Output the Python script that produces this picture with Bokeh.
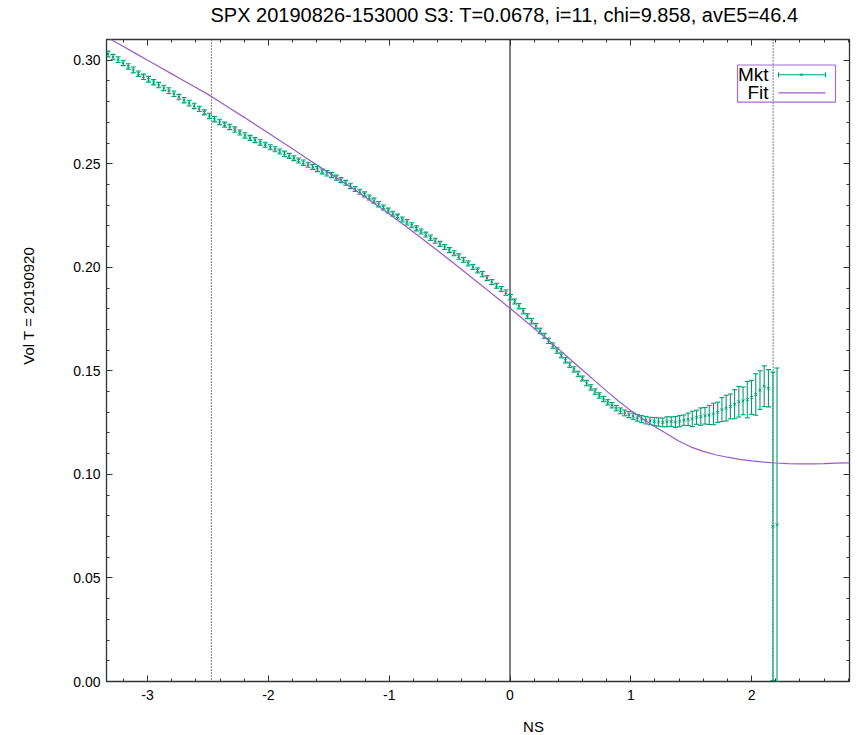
import math
import numpy as np
from bokeh.plotting import figure
from bokeh.models import (ColumnDataSource, Span, Label, BoxAnnotation, FixedTicker,
                          LinearAxis, Range1d, CustomJSTickFormatter)
from bokeh.embed import file_html
from bokeh.resources import INLINE

# ---------------- data ----------------
TITLE = "SPX 20190826-153000  S3:  T=0.0678, i=11, chi=9.858, avE5=46.4"
X_LABEL = "NS"
Y_LABEL = "Vol   T = 20190920"
LEGEND_LABELS = ["Mkt", "Fit"]

mkt_ns = [
    -3.328, -3.286, -3.244, -3.202, -3.160, -3.118, -3.076, -3.034, -2.992, -2.950,
    -2.908, -2.866, -2.824, -2.782, -2.740, -2.698, -2.656, -2.614, -2.572, -2.530,
    -2.488, -2.446, -2.404, -2.362, -2.320, -2.278, -2.236, -2.194, -2.152, -2.110,
    -2.068, -2.026, -1.984,
    -1.945, -1.906, -1.867, -1.828, -1.789, -1.750, -1.711, -1.672, -1.633, -1.594,
    -1.555, -1.516, -1.477, -1.438, -1.399, -1.360, -1.321, -1.282, -1.243, -1.204,
    -1.165, -1.126, -1.087, -1.048, -1.009, -0.970, -0.931, -0.892, -0.853, -0.814,
    -0.775, -0.736, -0.697, -0.658, -0.619, -0.580, -0.541, -0.502, -0.463, -0.424,
    -0.385, -0.346, -0.307, -0.268, -0.229, -0.190, -0.151, -0.112, -0.073, -0.034,
    0.004, 0.039, 0.074, 0.109, 0.144, 0.179, 0.214, 0.249, 0.284, 0.319,
    0.354, 0.389, 0.424, 0.459, 0.494, 0.529, 0.564, 0.599, 0.634, 0.669,
    0.704, 0.739, 0.774, 0.809, 0.844, 0.879, 0.914, 0.949, 0.984, 1.019,
    1.054, 1.089, 1.124, 1.159, 1.194, 1.229, 1.264, 1.299, 1.334, 1.369,
    1.404, 1.439, 1.474, 1.509, 1.544, 1.579, 1.614, 1.649, 1.684, 1.719,
    1.754, 1.789, 1.824, 1.859, 1.894, 1.929, 1.964, 1.999, 2.034, 2.069,
    2.104, 2.139, 2.176, 2.210,
]
mkt_vol = [
    0.3030, 0.3015, 0.3003, 0.2987, 0.2970, 0.2953, 0.2935, 0.2920, 0.2908, 0.2894,
    0.2880, 0.2866, 0.2853, 0.2838, 0.2822, 0.2807, 0.2793, 0.2779, 0.2765, 0.2748,
    0.2731, 0.2715, 0.2702, 0.2689, 0.2678, 0.2665, 0.2651, 0.2637, 0.2625, 0.2614,
    0.2603, 0.2592, 0.2580,
    0.2570, 0.2559, 0.2548, 0.2538, 0.2527, 0.2516, 0.2505, 0.2495, 0.2485, 0.2474,
    0.2463, 0.2454, 0.2445, 0.2433, 0.2421, 0.2408, 0.2393, 0.2378, 0.2365, 0.2352,
    0.2337, 0.2322, 0.2305, 0.2289, 0.2274, 0.2259, 0.2245, 0.2231, 0.2217, 0.2203,
    0.2188, 0.2173, 0.2158, 0.2143, 0.2128, 0.2113, 0.2098, 0.2083, 0.2068, 0.2052,
    0.2036, 0.2019, 0.2002, 0.1985, 0.1967, 0.1948, 0.1929, 0.1911, 0.1895, 0.1878,
    0.1856, 0.1835, 0.1812, 0.1788, 0.1764, 0.1740, 0.1716, 0.1693, 0.1669, 0.1645,
    0.1622, 0.1598, 0.1575, 0.1551, 0.1529, 0.1507, 0.1485, 0.1463, 0.1441, 0.1420,
    0.1400, 0.1381, 0.1364, 0.1348, 0.1334, 0.1320, 0.1307, 0.1297, 0.1289, 0.1281,
    0.1273, 0.1267, 0.1262, 0.1258, 0.1255, 0.1253, 0.1251, 0.1254, 0.1255, 0.1253,
    0.1257, 0.1262, 0.1266, 0.1268, 0.1276, 0.1279, 0.1283, 0.1287, 0.1292, 0.1300,
    0.1313, 0.1320, 0.1328, 0.1339, 0.1351, 0.1355, 0.1361, 0.1372, 0.1386, 0.1407,
    0.1426, 0.1416, 0.0749, 0.0757,
]
mkt_err = [
    0.0014, 0.0013, 0.0014, 0.0013, 0.0013, 0.0014, 0.0013, 0.0013, 0.0014, 0.0013,
    0.0013, 0.0013, 0.0014, 0.0013, 0.0013, 0.0013, 0.0014, 0.0013, 0.0013, 0.0012,
    0.0013, 0.0013, 0.0013, 0.0012, 0.0013, 0.0013, 0.0012, 0.0013, 0.0012, 0.0012,
    0.0013, 0.0012, 0.0012,
    0.0012, 0.0012, 0.0013, 0.0012, 0.0012, 0.0012, 0.0013, 0.0012, 0.0012, 0.0012,
    0.0012, 0.0013, 0.0012, 0.0012, 0.0012, 0.0012, 0.0013, 0.0012, 0.0012, 0.0012,
    0.0012, 0.0012, 0.0013, 0.0012, 0.0012, 0.0012, 0.0012, 0.0012, 0.0013, 0.0012,
    0.0012, 0.0012, 0.0012, 0.0013, 0.0012, 0.0012, 0.0012, 0.0012, 0.0012, 0.0013,
    0.0012, 0.0012, 0.0012, 0.0012, 0.0013, 0.0012, 0.0012, 0.0012, 0.0012, 0.0013,
    0.0013, 0.0012, 0.0013, 0.0013, 0.0012, 0.0013, 0.0013, 0.0013, 0.0012, 0.0013,
    0.0013, 0.0013, 0.0012, 0.0013, 0.0013, 0.0013, 0.0013, 0.0012, 0.0013, 0.0013,
    0.0013, 0.0013, 0.0013, 0.0013, 0.0013, 0.0013, 0.0014, 0.0014, 0.0015, 0.0015,
    0.0016, 0.0017, 0.0018, 0.0018, 0.0019, 0.0020, 0.0021, 0.0024, 0.0023, 0.0026,
    0.0027, 0.0025, 0.0030, 0.0037, 0.0034, 0.0042, 0.0040, 0.0046, 0.0052, 0.0049,
    0.0058, 0.0062, 0.0060, 0.0070, 0.0074, 0.0067, 0.0088, 0.0082, 0.0100, 0.0093,
    0.0098, 0.0090, 0.0745, 0.0757,
]

fit_ns = [
    -3.4, -3.3, -3.2, -3.1, -3.0, -2.9, -2.8, -2.7, -2.6, -2.5,
    -2.4, -2.3, -2.2, -2.1, -2.0, -1.9, -1.8, -1.7, -1.6, -1.5,
    -1.4, -1.3, -1.2, -1.1, -1.0, -0.9, -0.8, -0.7, -0.6, -0.5,
    -0.4, -0.3, -0.2, -0.1, 0.0, 0.1, 0.2, 0.3, 0.4, 0.5,
    0.6, 0.7, 0.8, 0.9, 1.0, 1.1, 1.2, 1.3, 1.4, 1.5,
    1.6, 1.7, 1.8, 1.9, 2.0, 2.1, 2.2, 2.3, 2.4, 2.5,
    2.6, 2.7, 2.8, 2.9,
]
fit_vol = [
    0.3132, 0.3099, 0.3066, 0.3033, 0.3000, 0.2967, 0.2934, 0.2901, 0.2868, 0.2835,
    0.2798, 0.2761, 0.2724, 0.2686, 0.2648, 0.2610, 0.2572, 0.2533, 0.2495, 0.2456,
    0.2418, 0.2380, 0.2340, 0.2299, 0.2257, 0.2214, 0.2170, 0.2126, 0.2081, 0.2035,
    0.1989, 0.1942, 0.1896, 0.1849, 0.1802, 0.1754, 0.1705, 0.1656, 0.1606, 0.1555,
    0.1504, 0.1453, 0.1402, 0.1353, 0.1308, 0.1268, 0.1230, 0.1195, 0.1160, 0.1132,
    0.1111, 0.1095, 0.1083, 0.1073, 0.1065, 0.1059, 0.1055, 0.1052, 0.1051, 0.1051,
    0.1052, 0.1054, 0.1056, 0.1058,
]

vline_solid = [0.0]
vlines_dotted = [-2.472, 2.178]

x_ticks = [-3, -2, -1, 0, 1, 2]
x_tick_labels = ["-3", "-2", "-1", "0", "1", "2"]
y_ticks = [0.0, 0.05, 0.10, 0.15, 0.20, 0.25, 0.30]
y_tick_labels = ["0.00", "0.05", "0.10", "0.15", "0.20", "0.25", "0.30"]

X0, X1 = -3.34, 2.81
Y0, Y1 = 0.0, 0.31

# ---------------- layout ----------------
FONT = "Liberation Sans"
GREEN = "#009e73"
PURPLE = "#9a5cc6"
AXC = "#333333"
FL, FT, FW, FH = 106, 39, 743, 642   # frame position / size in page px


def fx(px):  # page pixel -> data x (layout helper for legend / labels)
    return X0 + (px - FL) / FW * (X1 - X0)


def fy(py):  # page pixel -> data y (layout helper for legend / labels)
    return Y1 - (py - FT) / FH * (Y1 - Y0)


p = figure(frame_width=FW, frame_height=FH,
           x_range=Range1d(X0, X1), y_range=Range1d(Y0, Y1),
           output_backend="svg", toolbar_location=None,
           min_border_left=FL, min_border_top=FT, min_border_right=8,
           min_border_bottom=53)
p.xgrid.visible = False
p.ygrid.visible = False
p.outline_line_color = AXC
p.outline_line_width = 1.3
p.background_fill_color = "white"
p.border_fill_color = "white"

bottom_ax = p.below[0]
left_ax = p.left[0]

x_minor = [round(v, 2) for v in np.arange(-3.2, 2.81, 0.2)]
y_minor = [round(v, 2) for v in np.arange(0.0, 0.311, 0.01)]
xt = FixedTicker(ticks=x_ticks, minor_ticks=x_minor)
yt = FixedTicker(ticks=y_ticks, minor_ticks=y_minor)

top_ax = LinearAxis(ticker=xt, formatter=CustomJSTickFormatter(code="return ''"))
right_ax = LinearAxis(ticker=yt, formatter=CustomJSTickFormatter(code="return ''"))
p.add_layout(top_ax, "above")
p.add_layout(right_ax, "right")

bottom_ax.ticker = xt
left_ax.ticker = yt
bottom_ax.major_label_overrides = dict(zip(x_ticks, x_tick_labels))
left_ax.major_label_overrides = dict(zip(y_ticks, y_tick_labels))

for ax in [bottom_ax, left_ax, top_ax, right_ax]:
    ax.axis_line_color = None
    ax.major_tick_in = 6
    ax.major_tick_out = 0
    ax.minor_tick_in = 3
    ax.minor_tick_out = 0
    ax.major_tick_line_color = AXC
    ax.minor_tick_line_color = AXC
    ax.major_label_text_font = FONT
    ax.major_label_text_font_size = "14px"
    ax.major_label_text_color = "black"
for ax in [top_ax, right_ax]:
    ax.major_label_standoff = 0
    ax.major_label_text_font_size = "0px"
bottom_ax.major_label_standoff = 8
left_ax.major_label_standoff = 6

# titles: labels placed in the side panels (not clipped to the frame)
p.add_layout(Label(x=fx(509.5), y=fy(14), text=TITLE, text_align="center",
                   text_baseline="middle", text_font=FONT, text_font_size="20px",
                   text_color="black"), "above")
p.add_layout(Label(x=fx(533), y=fy(726), text=X_LABEL, text_align="center",
                   text_baseline="middle", text_font=FONT, text_font_size="15px",
                   text_color="black"), "below")
p.add_layout(Label(x=fx(28), y=fy(301), text=Y_LABEL, text_align="center",
                   text_baseline="middle", angle=math.pi / 2, text_font=FONT,
                   text_font_size="15px", text_color="black"), "left")

# reference lines
for v in vline_solid:
    p.add_layout(Span(location=v, dimension="height", line_color="black",
                      line_width=1, level="underlay"))
for v in vlines_dotted:
    p.add_layout(Span(location=v, dimension="height", line_color="black",
                      line_width=1, line_dash="1 2", level="underlay"))

# market data with error bars
lo = [v - e for v, e in zip(mkt_vol, mkt_err)]
hi = [v + e for v, e in zip(mkt_vol, mkt_err)]
src = ColumnDataSource(dict(x=mkt_ns, y=mkt_vol, lo=lo, hi=hi))
p.segment(x0="x", y0="lo", x1="x", y1="hi", source=src, line_color=GREEN, line_width=1.1)
p.scatter(x="x", y="lo", source=src, marker="dash", size=5, line_color=GREEN, line_width=1.1)
p.scatter(x="x", y="hi", source=src, marker="dash", size=5, line_color=GREEN, line_width=1.1)
p.scatter(x="x", y="y", source=src, marker="x", size=4, line_color=GREEN, line_width=1)

# fit
p.line(fit_ns, fit_vol, line_color=PURPLE, line_width=1.2)

# legend (gnuplot style: text, then sample)
p.add_layout(BoxAnnotation(left=fx(737), right=fx(835), top=fy(64.5), bottom=fy(101.7),
                           fill_alpha=0, line_color=PURPLE, line_alpha=0.9, line_width=1.2))
r1, r2 = fy(74.3), fy(92.3)
p.segment(x0=[fx(778)], y0=[r1], x1=[fx(825)], y1=[r1], line_color=GREEN, line_width=1.1)
p.scatter(x=[fx(778), fx(825)], y=[r1, r1], marker="dash", angle=math.pi / 2, size=5,
          line_color=GREEN, line_width=1.1)
p.scatter(x=[fx(801)], y=[r1], marker="x", size=4, line_color=GREEN)
p.segment(x0=[fx(778)], y0=[r2], x1=[fx(825)], y1=[r2], line_color=PURPLE, line_width=1.2)
for lab, yy in zip(LEGEND_LABELS, [r1, r2]):
    p.add_layout(Label(x=fx(768), y=yy, text=lab, text_align="right", text_baseline="middle",
                       text_font=FONT, text_font_size="19px", text_color="black"))

open("out.html", "w").write(file_html(p, INLINE))
